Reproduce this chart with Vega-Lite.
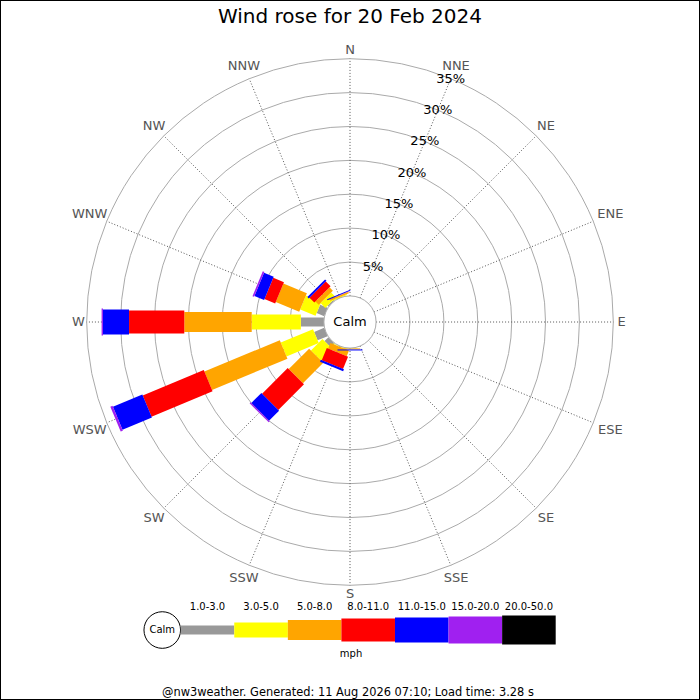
{
  "$schema": "https://vega.github.io/schema/vega-lite/v6.json",
  "width": 700,
  "height": 700,
  "padding": 0,
  "autosize": {"type": "none"},
  "background": "white",
  "config": {"view": {"stroke": "black", "strokeWidth": 2}, "font": "DejaVu Sans"},
  "datasets": {
    "dirs": [
      {"dir": "N", "deg": 0}, {"dir": "NNE", "deg": 22.5}, {"dir": "NE", "deg": 45}, {"dir": "ENE", "deg": 67.5},
      {"dir": "E", "deg": 90}, {"dir": "ESE", "deg": 112.5}, {"dir": "SE", "deg": 135}, {"dir": "SSE", "deg": 157.5},
      {"dir": "S", "deg": 180}, {"dir": "SSW", "deg": 202.5}, {"dir": "SW", "deg": 225}, {"dir": "WSW", "deg": 247.5},
      {"dir": "W", "deg": 270}, {"dir": "WNW", "deg": 292.5}, {"dir": "NW", "deg": 315}, {"dir": "NNW", "deg": 337.5}
    ],
    "rings": [{"pct": 5}, {"pct": 10}, {"pct": 15}, {"pct": 20}, {"pct": 25}, {"pct": 30}, {"pct": 35}],
    "classes": [
      {"speed": "1.0-3.0", "lo": 1}, {"speed": "3.0-5.0", "lo": 3}, {"speed": "5.0-8.0", "lo": 5},
      {"speed": "8.0-11.0", "lo": 8}, {"speed": "11.0-15.0", "lo": 11}, {"speed": "15.0-20.0", "lo": 15},
      {"speed": "20.0-50.0", "lo": 20}
    ],
    "bars": [
      {"dir": "W", "speed": "1.0-3.0", "pct": 3.4}, {"dir": "W", "speed": "3.0-5.0", "pct": 7.25},
      {"dir": "W", "speed": "5.0-8.0", "pct": 9.95}, {"dir": "W", "speed": "8.0-11.0", "pct": 8.15},
      {"dir": "W", "speed": "11.0-15.0", "pct": 3.85}, {"dir": "W", "speed": "15.0-20.0", "pct": 0.2},
      {"dir": "WSW", "speed": "1.0-3.0", "pct": 1.6}, {"dir": "WSW", "speed": "3.0-5.0", "pct": 5.15},
      {"dir": "WSW", "speed": "5.0-8.0", "pct": 12.05}, {"dir": "WSW", "speed": "8.0-11.0", "pct": 9.75},
      {"dir": "WSW", "speed": "11.0-15.0", "pct": 4.7}, {"dir": "WSW", "speed": "15.0-20.0", "pct": 0.35},
      {"dir": "SW", "speed": "1.0-3.0", "pct": 0.8}, {"dir": "SW", "speed": "3.0-5.0", "pct": 2.4},
      {"dir": "SW", "speed": "5.0-8.0", "pct": 4.25}, {"dir": "SW", "speed": "8.0-11.0", "pct": 5.35},
      {"dir": "SW", "speed": "11.0-15.0", "pct": 2.1}, {"dir": "SW", "speed": "15.0-20.0", "pct": 0.2},
      {"dir": "WNW", "speed": "1.0-3.0", "pct": 1.2}, {"dir": "WNW", "speed": "3.0-5.0", "pct": 2.45},
      {"dir": "WNW", "speed": "5.0-8.0", "pct": 3.75}, {"dir": "WNW", "speed": "8.0-11.0", "pct": 1.7},
      {"dir": "WNW", "speed": "11.0-15.0", "pct": 1.55}, {"dir": "WNW", "speed": "15.0-20.0", "pct": 0.25},
      {"dir": "NW", "speed": "1.0-3.0", "pct": 0.2}, {"dir": "NW", "speed": "3.0-5.0", "pct": 1.0},
      {"dir": "NW", "speed": "5.0-8.0", "pct": 0.7}, {"dir": "NW", "speed": "8.0-11.0", "pct": 1.0},
      {"dir": "NW", "speed": "11.0-15.0", "pct": 0.3},
      {"dir": "NNW", "speed": "3.0-5.0", "pct": 0.15}, {"dir": "NNW", "speed": "5.0-8.0", "pct": 0.2},
      {"dir": "NNW", "speed": "8.0-11.0", "pct": 0.05}, {"dir": "NNW", "speed": "11.0-15.0", "pct": 0.15},
      {"dir": "SSW", "speed": "3.0-5.0", "pct": 0.1}, {"dir": "SSW", "speed": "5.0-8.0", "pct": 0.9},
      {"dir": "SSW", "speed": "8.0-11.0", "pct": 1.95}, {"dir": "SSW", "speed": "11.0-15.0", "pct": 0.3},
      {"dir": "S", "speed": "3.0-5.0", "pct": 0.05}, {"dir": "S", "speed": "5.0-8.0", "pct": 0.15},
      {"dir": "S", "speed": "11.0-15.0", "pct": 0.15}
    ]
  },
  "resolve": {"scale": {"x": "independent"}},
  "layer": [
    {
      "layer": [
        {
          "data": {"name": "rings"},
          "transform": [{"calculate": "datum.pct + 3.85", "as": "u"}],
          "mark": {"type": "arc", "filled": false, "fill": null, "stroke": "#aaaaaa", "strokeWidth": 1, "theta": 0, "theta2": 6.2832},
          "encoding": {
            "x": {"datum": 0, "type": "quantitative", "scale": {"type": "linear", "domain": [-38.85, 38.85], "range": [86.7, 613.3], "nice": false, "zero": false}, "axis": null},
            "y": {"datum": 0, "type": "quantitative", "scale": {"type": "linear", "domain": [-38.85, 38.85], "range": [585.3, 58.7], "nice": false, "zero": false}, "axis": null},
            "radius": {"field": "u", "type": "quantitative", "stack": null, "scale": {"type": "linear", "domain": [0, 38.85], "range": [0, 263.3], "nice": false, "zero": true}}
          }
        },
        {
          "data": {"name": "dirs"},
          "transform": [
            {"calculate": "datum.deg * PI / 180", "as": "a"},
            {"calculate": "3.85 * sin(datum.a)", "as": "x0"},
            {"calculate": "3.85 * cos(datum.a)", "as": "y0"},
            {"calculate": "38.85 * sin(datum.a)", "as": "x1"},
            {"calculate": "38.85 * cos(datum.a)", "as": "y1"}
          ],
          "mark": {"type": "rule", "stroke": "#555555", "strokeWidth": 1, "strokeDash": [1, 2]},
          "encoding": {
            "x": {"field": "x0", "type": "quantitative", "scale": {"type": "linear", "domain": [-38.85, 38.85], "range": [86.7, 613.3], "nice": false, "zero": false}, "axis": null},
            "y": {"field": "y0", "type": "quantitative", "scale": {"type": "linear", "domain": [-38.85, 38.85], "range": [585.3, 58.7], "nice": false, "zero": false}, "axis": null},
            "x2": {"field": "x1"},
            "y2": {"field": "y1"}
          }
        },
        {
          "data": {"name": "bars"},
          "transform": [
            {"lookup": "dir", "from": {"data": {"name": "dirs"}, "key": "dir", "fields": ["deg"]}},
            {"lookup": "speed", "from": {"data": {"name": "classes"}, "key": "speed", "fields": ["lo"]}},
            {"stack": "pct", "groupby": ["dir"], "sort": [{"field": "lo", "order": "ascending"}], "as": ["p0", "p1"]},
            {"calculate": "datum.deg * PI / 180", "as": "a"},
            {"calculate": "(datum.p0 + 3.85) * sin(datum.a)", "as": "x0"},
            {"calculate": "(datum.p0 + 3.85) * cos(datum.a)", "as": "y0"},
            {"calculate": "(datum.p1 + 3.85) * sin(datum.a)", "as": "x1"},
            {"calculate": "(datum.p1 + 3.85) * cos(datum.a)", "as": "y1"}
          ],
          "mark": {"type": "rule", "strokeCap": "butt"},
          "encoding": {
            "x": {"field": "x0", "type": "quantitative", "scale": {"type": "linear", "domain": [-38.85, 38.85], "range": [86.7, 613.3], "nice": false, "zero": false}, "axis": null},
            "y": {"field": "y0", "type": "quantitative", "scale": {"type": "linear", "domain": [-38.85, 38.85], "range": [585.3, 58.7], "nice": false, "zero": false}, "axis": null},
            "x2": {"field": "x1"},
            "y2": {"field": "y1"},
            "color": {"field": "speed", "type": "nominal", "legend": null,
              "scale": {"domain": ["1.0-3.0", "3.0-5.0", "5.0-8.0", "8.0-11.0", "11.0-15.0", "15.0-20.0", "20.0-50.0"],
                        "range": ["#999999", "#ffff00", "#ffa500", "#ff0000", "#0000ff", "#a020f0", "#000000"]}},
            "strokeWidth": {"field": "lo", "type": "quantitative", "legend": null,
              "scale": {"type": "threshold", "domain": [3, 5, 8, 11, 15, 20], "range": [9, 15, 20, 23, 25, 27, 29]}}
          }
        },
        {
          "data": {"values": [{"r": 3.85}]},
          "mark": {"type": "arc", "fill": "white", "stroke": "#aaaaaa", "strokeWidth": 1, "theta": 0, "theta2": 6.2832},
          "encoding": {
            "x": {"datum": 0, "type": "quantitative", "scale": {"type": "linear", "domain": [-38.85, 38.85], "range": [86.7, 613.3], "nice": false, "zero": false}, "axis": null},
            "y": {"datum": 0, "type": "quantitative", "scale": {"type": "linear", "domain": [-38.85, 38.85], "range": [585.3, 58.7], "nice": false, "zero": false}, "axis": null},
            "radius": {"field": "r", "type": "quantitative", "stack": null, "scale": {"type": "linear", "domain": [0, 38.85], "range": [0, 263.3], "nice": false, "zero": true}}
          }
        },
        {
          "data": {"values": [{"r": 2.7}]},
          "mark": {"type": "arc", "fill": "white", "stroke": "black", "strokeWidth": 1, "theta": 0, "theta2": 6.2832},
          "encoding": {
            "x": {"datum": -27.7, "type": "quantitative", "scale": {"type": "linear", "domain": [-38.85, 38.85], "range": [86.7, 613.3], "nice": false, "zero": false}, "axis": null},
            "y": {"datum": -45.45, "type": "quantitative", "scale": {"type": "linear", "domain": [-38.85, 38.85], "range": [585.3, 58.7], "nice": false, "zero": false}, "axis": null},
            "radius": {"field": "r", "type": "quantitative", "stack": null, "scale": {"type": "linear", "domain": [0, 38.85], "range": [0, 263.3], "nice": false, "zero": true}}
          }
        },
        {
          "data": {"name": "dirs"},
          "transform": [
            {"calculate": "datum.deg * PI / 180", "as": "a"},
            {"calculate": "(267 + 4.65 * length(datum.dir) * abs(sin(datum.a)) + 5 * abs(cos(datum.a))) / 6.777", "as": "u"},
            {"calculate": "datum.u * sin(datum.a)", "as": "lx"},
            {"calculate": "datum.u * cos(datum.a)", "as": "ly"}
          ],
          "mark": {"type": "text", "fontSize": 13, "fill": "#555555", "align": "center", "baseline": "middle"},
          "encoding": {
            "x": {"field": "lx", "type": "quantitative", "scale": {"type": "linear", "domain": [-38.85, 38.85], "range": [86.7, 613.3], "nice": false, "zero": false}, "axis": null},
            "y": {"field": "ly", "type": "quantitative", "scale": {"type": "linear", "domain": [-38.85, 38.85], "range": [585.3, 58.7], "nice": false, "zero": false}, "axis": null},
            "text": {"field": "dir"}
          }
        },
        {
          "data": {"name": "rings"},
          "transform": [
            {"calculate": "(datum.pct + 3.85) * sin(PI / 8)", "as": "lx"},
            {"calculate": "(datum.pct + 3.85) * cos(PI / 8)", "as": "ly"},
            {"calculate": "datum.pct + '%'", "as": "label"}
          ],
          "mark": {"type": "text", "fontSize": 13, "fill": "black", "align": "center", "baseline": "middle"},
          "encoding": {
            "x": {"field": "lx", "type": "quantitative", "scale": {"type": "linear", "domain": [-38.85, 38.85], "range": [86.7, 613.3], "nice": false, "zero": false}, "axis": null},
            "y": {"field": "ly", "type": "quantitative", "scale": {"type": "linear", "domain": [-38.85, 38.85], "range": [585.3, 58.7], "nice": false, "zero": false}, "axis": null},
            "text": {"field": "label"}
          }
        },
        {
          "data": {"values": [{"t": "Calm", "px": 0, "py": 0}]},
          "mark": {"type": "text", "fontSize": 13, "fill": "black", "align": "center", "baseline": "middle"},
          "encoding": {
            "x": {"field": "px", "type": "quantitative", "scale": {"type": "linear", "domain": [-38.85, 38.85], "range": [86.7, 613.3], "nice": false, "zero": false}, "axis": null},
            "y": {"field": "py", "type": "quantitative", "scale": {"type": "linear", "domain": [-38.85, 38.85], "range": [585.3, 58.7], "nice": false, "zero": false}, "axis": null},
            "text": {"field": "t"}
          }
        },
        {
          "data": {"values": [{"t": "Wind rose for 20 Feb 2024", "px": 0, "py": 45.0}]},
          "mark": {"type": "text", "fontSize": 20, "fill": "black", "align": "center", "baseline": "middle"},
          "encoding": {
            "x": {"field": "px", "type": "quantitative", "scale": {"type": "linear", "domain": [-38.85, 38.85], "range": [86.7, 613.3], "nice": false, "zero": false}, "axis": null},
            "y": {"field": "py", "type": "quantitative", "scale": {"type": "linear", "domain": [-38.85, 38.85], "range": [585.3, 58.7], "nice": false, "zero": false}, "axis": null},
            "text": {"field": "t"}
          }
        },
        {
          "data": {"values": [{"t": "Calm", "px": -27.7, "py": -45.45}, {"t": "mph", "px": 0.15, "py": -49.0}]},
          "mark": {"type": "text", "fontSize": 10, "fill": "black", "align": "center", "baseline": "middle"},
          "encoding": {
            "x": {"field": "px", "type": "quantitative", "scale": {"type": "linear", "domain": [-38.85, 38.85], "range": [86.7, 613.3], "nice": false, "zero": false}, "axis": null},
            "y": {"field": "py", "type": "quantitative", "scale": {"type": "linear", "domain": [-38.85, 38.85], "range": [585.3, 58.7], "nice": false, "zero": false}, "axis": null},
            "text": {"field": "t"}
          }
        },
        {
          "data": {"values": [{"t": "@nw3weather. Generated: 11 Aug 2026 07:10; Load time: 3.28 s", "px": -0.3, "py": -54.8}]},
          "mark": {"type": "text", "fontSize": 11.4, "fill": "black", "align": "center", "baseline": "middle"},
          "encoding": {
            "x": {"field": "px", "type": "quantitative", "scale": {"type": "linear", "domain": [-38.85, 38.85], "range": [86.7, 613.3], "nice": false, "zero": false}, "axis": null},
            "y": {"field": "py", "type": "quantitative", "scale": {"type": "linear", "domain": [-38.85, 38.85], "range": [585.3, 58.7], "nice": false, "zero": false}, "axis": null},
            "text": {"field": "t"}
          }
        }
      ]
    },
    {
      "data": {"name": "classes"},
      "layer": [
        {
          "mark": {"type": "rule", "strokeCap": "butt"},
          "encoding": {
            "x": {"field": "speed", "type": "ordinal", "bandPosition": 0, "axis": null,
              "scale": {"type": "band", "domain": ["1.0-3.0", "3.0-5.0", "5.0-8.0", "8.0-11.0", "11.0-15.0", "15.0-20.0", "20.0-50.0"], "range": [180.7, 555.7], "paddingInner": 0, "paddingOuter": 0}},
            "x2": {"field": "speed", "bandPosition": 1},
            "y": {"datum": -45.45, "type": "quantitative", "scale": {"type": "linear", "domain": [-38.85, 38.85], "range": [585.3, 58.7], "nice": false, "zero": false}, "axis": null},
            "color": {"field": "speed", "type": "nominal", "legend": null,
              "scale": {"domain": ["1.0-3.0", "3.0-5.0", "5.0-8.0", "8.0-11.0", "11.0-15.0", "15.0-20.0", "20.0-50.0"],
                        "range": ["#999999", "#ffff00", "#ffa500", "#ff0000", "#0000ff", "#a020f0", "#000000"]}},
            "strokeWidth": {"field": "lo", "type": "quantitative", "legend": null,
              "scale": {"type": "threshold", "domain": [3, 5, 8, 11, 15, 20], "range": [9, 15, 20, 23, 25, 27, 29]}}
          }
        },
        {
          "mark": {"type": "text", "fontSize": 10, "fill": "black", "align": "center", "baseline": "middle"},
          "encoding": {
            "x": {"field": "speed", "type": "ordinal", "bandPosition": 0.5, "axis": null,
              "scale": {"type": "band", "domain": ["1.0-3.0", "3.0-5.0", "5.0-8.0", "8.0-11.0", "11.0-15.0", "15.0-20.0", "20.0-50.0"], "range": [180.7, 555.7], "paddingInner": 0, "paddingOuter": 0}},
            "y": {"datum": -42.1, "type": "quantitative", "scale": {"type": "linear", "domain": [-38.85, 38.85], "range": [585.3, 58.7], "nice": false, "zero": false}, "axis": null},
            "text": {"field": "speed"}
          }
        }
      ]
    }
  ]
}
